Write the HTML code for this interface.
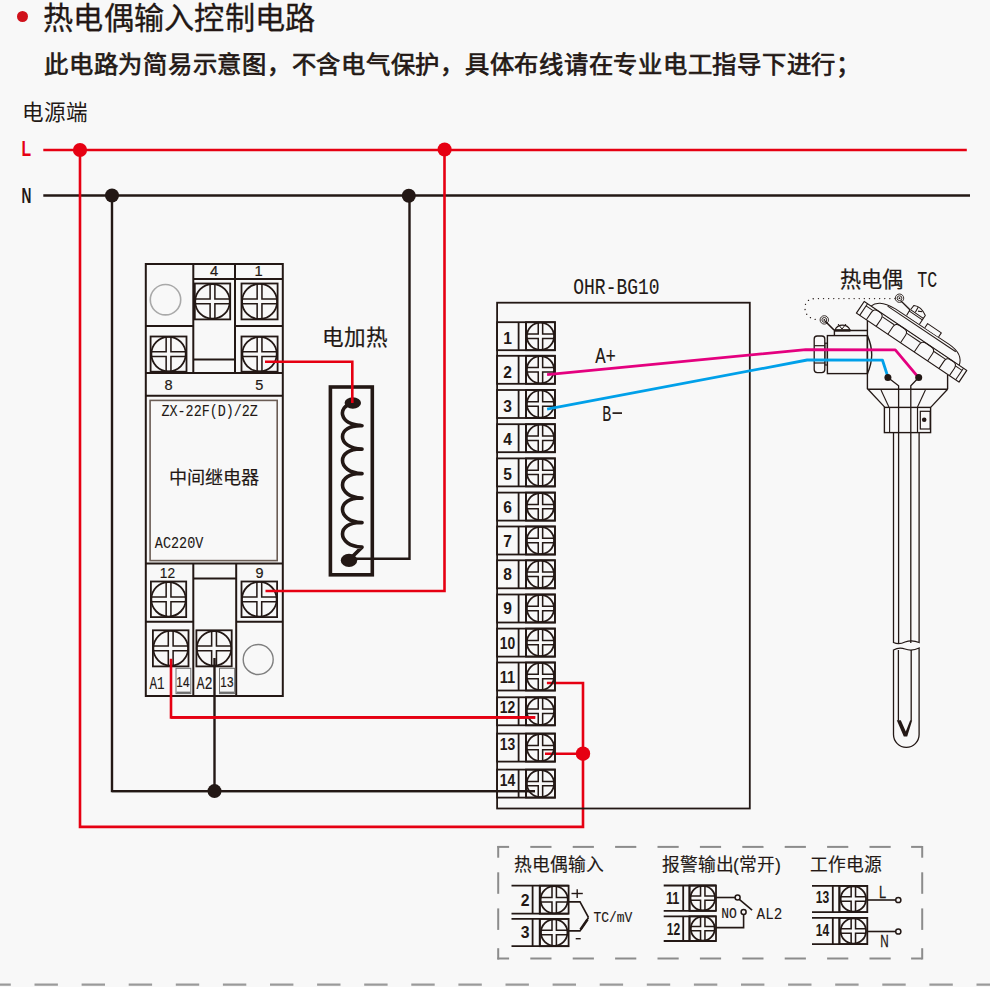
<!DOCTYPE html>
<html lang="zh-CN"><head><meta charset="utf-8"><style>
html,body{margin:0;padding:0;background:#f8f8f8;}
body{width:990px;height:987px;position:relative;overflow:hidden;font-family:"Liberation Sans",sans-serif;}
.h1{position:absolute;left:43px;top:-1.3px;font-size:30.2px;letter-spacing:0.25px;color:#231815;white-space:nowrap;line-height:40px;-webkit-text-stroke:0.3px #231815;}
.h2{position:absolute;left:44px;top:48px;font-size:24.3px;letter-spacing:0.75px;color:#231815;white-space:nowrap;line-height:34px;-webkit-text-stroke:0.7px #231815;}
.src{position:absolute;left:22px;top:99px;font-size:21.6px;color:#231815;white-space:nowrap;line-height:28px;}
.bullet{position:absolute;left:16.5px;top:11.3px;width:11px;height:11px;border-radius:50%;background:#d0111b;}
svg{position:absolute;left:0;top:0;}
</style></head><body>
<div class="bullet"></div>
<div class="h1">热电偶输入控制电路</div>
<div class="h2">此电路为简易示意图，不含电气保护，具体布线请在专业电工指导下进行；</div>
<div class="src">电源端</div>
<svg width="990" height="987" viewBox="0 0 990 987" lang="zh-CN">
<text x="21.6" y="156" font-size="21.8" font-weight="bold" fill="#e60012" font-family="Liberation Sans" textLength="9.6" lengthAdjust="spacingAndGlyphs">L</text>
<text x="21.6" y="203" font-size="21.8" font-weight="bold" fill="#231815" font-family="Liberation Sans" textLength="9.9" lengthAdjust="spacingAndGlyphs">N</text>
<line x1="43.3" y1="150" x2="966.8" y2="150" stroke="#e60012" stroke-width="2.6" />
<line x1="43.3" y1="195.5" x2="970" y2="195.5" stroke="#231815" stroke-width="2.6" />
<polyline points="112,195.5 112,791.1 535,791.1" fill="none" stroke="#231815" stroke-width="2.4" />
<polyline points="214.5,658 214.5,791.1" fill="none" stroke="#231815" stroke-width="2.4" />
<polyline points="409.5,195.5 409.5,558.8 349,558.8" fill="none" stroke="#231815" stroke-width="2.4" />
<circle cx="112" cy="195.5" r="7" fill="#231815"/>
<circle cx="214.5" cy="791.1" r="7" fill="#231815"/>
<circle cx="408.8" cy="195.7" r="7" fill="#231815"/>
<rect x="145.8" y="264" width="137.00" height="432.00" fill="none" stroke="#231815" stroke-width="2" />
<line x1="193.3" y1="264" x2="193.3" y2="373" stroke="#231815" stroke-width="2" />
<line x1="235" y1="264" x2="235" y2="373" stroke="#231815" stroke-width="2" />
<line x1="193.3" y1="279" x2="282.8" y2="279" stroke="#231815" stroke-width="2" />
<line x1="145.8" y1="326" x2="193.3" y2="326" stroke="#231815" stroke-width="2" />
<line x1="235" y1="326" x2="282.8" y2="326" stroke="#231815" stroke-width="2" />
<line x1="145.8" y1="373" x2="282.8" y2="373" stroke="#231815" stroke-width="2" />
<line x1="193.3" y1="359.5" x2="235" y2="359.5" stroke="#231815" stroke-width="2" />
<rect x="194.8" y="283.5" width="35.40" height="35.90" fill="none" stroke="#231815" stroke-width="1.8" />
<circle cx="212.50" cy="301.45" r="17.30" fill="none" stroke="#231815" stroke-width="1.8"/>
<polyline points="210.10,284.32 210.10,299.05 195.37,299.05" fill="none" stroke="#231815" stroke-width="1.53"/>
<polyline points="210.10,318.58 210.10,303.85 195.37,303.85" fill="none" stroke="#231815" stroke-width="1.53"/>
<polyline points="214.90,284.32 214.90,299.05 229.63,299.05" fill="none" stroke="#231815" stroke-width="1.53"/>
<polyline points="214.90,318.58 214.90,303.85 229.63,303.85" fill="none" stroke="#231815" stroke-width="1.53"/>
<rect x="241.5" y="283.5" width="36.10" height="35.90" fill="none" stroke="#231815" stroke-width="1.8" />
<circle cx="259.55" cy="301.45" r="17.55" fill="none" stroke="#231815" stroke-width="1.8"/>
<polyline points="257.15,284.06 257.15,299.05 242.16,299.05" fill="none" stroke="#231815" stroke-width="1.53"/>
<polyline points="257.15,318.84 257.15,303.85 242.16,303.85" fill="none" stroke="#231815" stroke-width="1.53"/>
<polyline points="261.95,284.06 261.95,299.05 276.94,299.05" fill="none" stroke="#231815" stroke-width="1.53"/>
<polyline points="261.95,318.84 261.95,303.85 276.94,303.85" fill="none" stroke="#231815" stroke-width="1.53"/>
<rect x="150.6" y="336.5" width="35.90" height="35.20" fill="none" stroke="#231815" stroke-width="1.8" />
<circle cx="168.55" cy="354.10" r="17.20" fill="none" stroke="#231815" stroke-width="1.8"/>
<polyline points="166.15,337.07 166.15,351.70 151.52,351.70" fill="none" stroke="#231815" stroke-width="1.53"/>
<polyline points="166.15,371.13 166.15,356.50 151.52,356.50" fill="none" stroke="#231815" stroke-width="1.53"/>
<polyline points="170.95,337.07 170.95,351.70 185.58,351.70" fill="none" stroke="#231815" stroke-width="1.53"/>
<polyline points="170.95,371.13 170.95,356.50 185.58,356.50" fill="none" stroke="#231815" stroke-width="1.53"/>
<rect x="241.5" y="336.5" width="36.10" height="35.20" fill="none" stroke="#231815" stroke-width="1.8" />
<circle cx="259.55" cy="354.10" r="17.20" fill="none" stroke="#231815" stroke-width="1.8"/>
<polyline points="257.15,337.07 257.15,351.70 242.52,351.70" fill="none" stroke="#231815" stroke-width="1.53"/>
<polyline points="257.15,371.13 257.15,356.50 242.52,356.50" fill="none" stroke="#231815" stroke-width="1.53"/>
<polyline points="261.95,337.07 261.95,351.70 276.58,351.70" fill="none" stroke="#231815" stroke-width="1.53"/>
<polyline points="261.95,371.13 261.95,356.50 276.58,356.50" fill="none" stroke="#231815" stroke-width="1.53"/>
<circle cx="165.5" cy="299.7" r="15.2" fill="none" stroke="#a9a9a9" stroke-width="1.6"/>
<text x="214" y="276.4" font-size="14.8" fill="#231815" text-anchor="middle" font-weight="normal" font-family="Liberation Sans" stroke="#231815" stroke-width="0.2" >4</text>
<text x="258.5" y="276.4" font-size="14.8" fill="#231815" text-anchor="middle" font-weight="normal" font-family="Liberation Sans" stroke="#231815" stroke-width="0.2" >1</text>
<text x="168.6" y="389.7" font-size="14.5" fill="#231815" text-anchor="middle" font-weight="normal" font-family="Liberation Sans" stroke="#231815" stroke-width="0.2" >8</text>
<text x="259.3" y="389.7" font-size="14.5" fill="#231815" text-anchor="middle" font-weight="normal" font-family="Liberation Sans" stroke="#231815" stroke-width="0.2" >5</text>
<line x1="145.8" y1="395.7" x2="282.8" y2="395.7" stroke="#231815" stroke-width="2" />
<rect x="150.1" y="400.4" width="127.10" height="160.20" fill="none" stroke="#6b5d55" stroke-width="1.6" />
<line x1="145.8" y1="563.6" x2="282.8" y2="563.6" stroke="#231815" stroke-width="2" />
<text x="209.7" y="415.8" font-size="17" fill="#231815" text-anchor="middle" font-weight="normal" font-family="Liberation Mono" textLength="96.4" lengthAdjust="spacingAndGlyphs" stroke="#231815" stroke-width="0.1" >ZX-22F(D)/2Z</text>
<text x="214.4" y="484.4" font-size="18.1" fill="#231815" text-anchor="middle" font-weight="normal" font-family="Liberation Sans" stroke="#231815" stroke-width="0.15" >中间继电器</text>
<text x="154.8" y="547.9" font-size="17.4" fill="#231815" text-anchor="start" font-weight="normal" font-family="Liberation Mono" textLength="48.5" lengthAdjust="spacingAndGlyphs" stroke="#231815" stroke-width="0.1" >AC220V</text>
<line x1="193.3" y1="563.6" x2="193.3" y2="696" stroke="#231815" stroke-width="2" />
<line x1="236.2" y1="563.6" x2="236.2" y2="696" stroke="#231815" stroke-width="2" />
<line x1="193.3" y1="578.5" x2="236.2" y2="578.5" stroke="#231815" stroke-width="2" />
<line x1="145.8" y1="621.7" x2="193.3" y2="621.7" stroke="#231815" stroke-width="2" />
<line x1="236.2" y1="621.7" x2="282.8" y2="621.7" stroke="#231815" stroke-width="2" />
<text x="167.5" y="578.4" font-size="14.4" fill="#231815" text-anchor="middle" font-weight="normal" font-family="Liberation Sans" textLength="15.3" lengthAdjust="spacingAndGlyphs" stroke="#231815" stroke-width="0.2" >12</text>
<text x="259.5" y="578.4" font-size="14.4" fill="#231815" text-anchor="middle" font-weight="normal" font-family="Liberation Sans" stroke="#231815" stroke-width="0.2" >9</text>
<rect x="150.9" y="581.5" width="35.30" height="35.60" fill="none" stroke="#231815" stroke-width="1.8" />
<circle cx="168.55" cy="599.30" r="17.25" fill="none" stroke="#231815" stroke-width="1.8"/>
<polyline points="166.15,582.22 166.15,596.90 151.47,596.90" fill="none" stroke="#231815" stroke-width="1.53"/>
<polyline points="166.15,616.38 166.15,601.70 151.47,601.70" fill="none" stroke="#231815" stroke-width="1.53"/>
<polyline points="170.95,582.22 170.95,596.90 185.63,596.90" fill="none" stroke="#231815" stroke-width="1.53"/>
<polyline points="170.95,616.38 170.95,601.70 185.63,601.70" fill="none" stroke="#231815" stroke-width="1.53"/>
<rect x="241.5" y="581.5" width="35.60" height="35.60" fill="none" stroke="#231815" stroke-width="1.8" />
<circle cx="259.30" cy="599.30" r="17.40" fill="none" stroke="#231815" stroke-width="1.8"/>
<polyline points="256.90,582.07 256.90,596.90 242.07,596.90" fill="none" stroke="#231815" stroke-width="1.53"/>
<polyline points="256.90,616.53 256.90,601.70 242.07,601.70" fill="none" stroke="#231815" stroke-width="1.53"/>
<polyline points="261.70,582.07 261.70,596.90 276.53,596.90" fill="none" stroke="#231815" stroke-width="1.53"/>
<polyline points="261.70,616.53 261.70,601.70 276.53,601.70" fill="none" stroke="#231815" stroke-width="1.53"/>
<rect x="152.9" y="630.3" width="35.60" height="36.10" fill="none" stroke="#231815" stroke-width="1.8" />
<circle cx="170.70" cy="648.35" r="17.40" fill="none" stroke="#231815" stroke-width="1.8"/>
<polyline points="168.30,631.12 168.30,645.95 153.47,645.95" fill="none" stroke="#231815" stroke-width="1.53"/>
<polyline points="168.30,665.58 168.30,650.75 153.47,650.75" fill="none" stroke="#231815" stroke-width="1.53"/>
<polyline points="173.10,631.12 173.10,645.95 187.93,645.95" fill="none" stroke="#231815" stroke-width="1.53"/>
<polyline points="173.10,665.58 173.10,650.75 187.93,650.75" fill="none" stroke="#231815" stroke-width="1.53"/>
<rect x="196.4" y="630.3" width="35.30" height="36.10" fill="none" stroke="#231815" stroke-width="1.8" />
<circle cx="214.05" cy="648.35" r="17.25" fill="none" stroke="#231815" stroke-width="1.8"/>
<polyline points="211.65,631.27 211.65,645.95 196.97,645.95" fill="none" stroke="#231815" stroke-width="1.53"/>
<polyline points="211.65,665.43 211.65,650.75 196.97,650.75" fill="none" stroke="#231815" stroke-width="1.53"/>
<polyline points="216.45,631.27 216.45,645.95 231.13,645.95" fill="none" stroke="#231815" stroke-width="1.53"/>
<polyline points="216.45,665.43 216.45,650.75 231.13,650.75" fill="none" stroke="#231815" stroke-width="1.53"/>
<circle cx="258.2" cy="659.5" r="15" fill="none" stroke="#7f7f7f" stroke-width="1.4"/>
<text x="149.5" y="688.8" font-size="18.4" fill="#231815" text-anchor="start" font-weight="normal" font-family="Liberation Mono" textLength="15.2" lengthAdjust="spacingAndGlyphs" stroke="#231815" stroke-width="0.1" >A1</text>
<rect x="176" y="668.3" width="14.80" height="25.30" fill="none" stroke="#6f6f6f" stroke-width="1" />
<line x1="176.5" y1="692.6" x2="190.3" y2="692.6" stroke="#707070" stroke-width="2" />
<text x="182.9" y="687.1" font-size="14.5" fill="#231815" text-anchor="middle" font-weight="normal" font-family="Liberation Sans" textLength="13.1" lengthAdjust="spacingAndGlyphs" stroke="#231815" stroke-width="0.2" >14</text>
<text x="196.5" y="688.8" font-size="18.4" fill="#231815" text-anchor="start" font-weight="normal" font-family="Liberation Mono" textLength="16.2" lengthAdjust="spacingAndGlyphs" stroke="#231815" stroke-width="0.1" >A2</text>
<rect x="219.5" y="668.3" width="15.20" height="25.30" fill="none" stroke="#6f6f6f" stroke-width="1" />
<line x1="220" y1="692.6" x2="234.2" y2="692.6" stroke="#707070" stroke-width="2" />
<text x="226.9" y="687.1" font-size="14.5" fill="#231815" text-anchor="middle" font-weight="normal" font-family="Liberation Sans" textLength="13.1" lengthAdjust="spacingAndGlyphs" stroke="#231815" stroke-width="0.2" >13</text>
<rect x="330.4" y="387" width="41.90" height="187.80" fill="none" stroke="#231815" stroke-width="3.6" />
<text x="354.5" y="345" font-size="21.6" fill="#231815" text-anchor="middle" font-weight="normal" font-family="Liberation Sans" stroke="#231815" stroke-width="0.2" >电加热</text>
<path d="M351,404 C339,406 337,424 362,425.7 C336,424.7 336,448.1 362,449.1 C336,448.1 336,472.6 362,473.6 C336,472.6 336,497.1 362,498.1 C336,497.1 336,521.6 362,522.6 C336,521.6 336,546.1 362,547.1 L349,560" fill="none" stroke="#231815" stroke-width="3.6" stroke-linejoin="round"/>
<ellipse cx="352.8" cy="403" rx="8.2" ry="5.8" fill="#231815"/>
<ellipse cx="349" cy="560.4" rx="8.2" ry="6.6" fill="#231815"/>
<polyline points="80,150 80,826.9 583,826.9 583,683 546.9,683" fill="none" stroke="#e60012" stroke-width="2.6" />
<polyline points="545,753.7 583,753.7" fill="none" stroke="#e60012" stroke-width="2.6" />
<polyline points="171,658.8 171,717.4 535.2,717.4" fill="none" stroke="#e60012" stroke-width="2.6" />
<polyline points="444.5,150 444.5,591 265.5,591" fill="none" stroke="#e60012" stroke-width="2.6" />
<polyline points="265,361.7 352.3,361.7 352.3,403" fill="none" stroke="#e60012" stroke-width="2.6" />
<circle cx="80" cy="150" r="7.1" fill="#e60012"/>
<circle cx="444.6" cy="149.5" r="7.1" fill="#e60012"/>
<circle cx="583" cy="753.7" r="7.2" fill="#e60012"/>
<rect x="497.1" y="302.7" width="252.70" height="505.80" fill="none" stroke="#231815" stroke-width="1.8" />
<text x="616.4" y="293.6" font-size="22.6" fill="#231815" text-anchor="middle" font-weight="normal" font-family="Liberation Mono" textLength="86.1" lengthAdjust="spacingAndGlyphs" stroke="#231815" stroke-width="0.1" >OHR-BG10</text>
<rect x="497.1" y="322.2" width="57.80" height="28.00" fill="none" stroke="#231815" stroke-width="1.8" />
<line x1="518.6" y1="322.2" x2="518.6" y2="350.2" stroke="#231815" stroke-width="1.8" />
<line x1="526" y1="322.2" x2="526" y2="350.2" stroke="#231815" stroke-width="1.8" />
<rect x="526" y="322.2" width="28.90" height="28.00" fill="none" stroke="#231815" stroke-width="1.8" />
<circle cx="540.45" cy="336.20" r="13.60" fill="none" stroke="#231815" stroke-width="1.8"/>
<polyline points="538.25,322.78 538.25,334.00 527.03,334.00" fill="none" stroke="#231815" stroke-width="1.53"/>
<polyline points="538.25,349.62 538.25,338.40 527.03,338.40" fill="none" stroke="#231815" stroke-width="1.53"/>
<polyline points="542.65,322.78 542.65,334.00 553.87,334.00" fill="none" stroke="#231815" stroke-width="1.53"/>
<polyline points="542.65,349.62 542.65,338.40 553.87,338.40" fill="none" stroke="#231815" stroke-width="1.53"/>
<text x="507.5" y="344.2" font-size="15.6" fill="#231815" text-anchor="middle" font-weight="bold" font-family="Liberation Sans" >1</text>
<rect x="497.1" y="355.8" width="57.80" height="28.00" fill="none" stroke="#231815" stroke-width="1.8" />
<line x1="518.6" y1="355.8" x2="518.6" y2="383.8" stroke="#231815" stroke-width="1.8" />
<line x1="526" y1="355.8" x2="526" y2="383.8" stroke="#231815" stroke-width="1.8" />
<rect x="526" y="355.8" width="28.90" height="28.00" fill="none" stroke="#231815" stroke-width="1.8" />
<circle cx="540.45" cy="369.80" r="13.60" fill="none" stroke="#231815" stroke-width="1.8"/>
<polyline points="538.25,356.38 538.25,367.60 527.03,367.60" fill="none" stroke="#231815" stroke-width="1.53"/>
<polyline points="538.25,383.22 538.25,372.00 527.03,372.00" fill="none" stroke="#231815" stroke-width="1.53"/>
<polyline points="542.65,356.38 542.65,367.60 553.87,367.60" fill="none" stroke="#231815" stroke-width="1.53"/>
<polyline points="542.65,383.22 542.65,372.00 553.87,372.00" fill="none" stroke="#231815" stroke-width="1.53"/>
<text x="507.5" y="377.9" font-size="15.6" fill="#231815" text-anchor="middle" font-weight="bold" font-family="Liberation Sans" >2</text>
<rect x="497.1" y="390" width="57.80" height="28.00" fill="none" stroke="#231815" stroke-width="1.8" />
<line x1="518.6" y1="390" x2="518.6" y2="418" stroke="#231815" stroke-width="1.8" />
<line x1="526" y1="390" x2="526" y2="418" stroke="#231815" stroke-width="1.8" />
<rect x="526" y="390" width="28.90" height="28.00" fill="none" stroke="#231815" stroke-width="1.8" />
<circle cx="540.45" cy="404.00" r="13.60" fill="none" stroke="#231815" stroke-width="1.8"/>
<polyline points="538.25,390.58 538.25,401.80 527.03,401.80" fill="none" stroke="#231815" stroke-width="1.53"/>
<polyline points="538.25,417.42 538.25,406.20 527.03,406.20" fill="none" stroke="#231815" stroke-width="1.53"/>
<polyline points="542.65,390.58 542.65,401.80 553.87,401.80" fill="none" stroke="#231815" stroke-width="1.53"/>
<polyline points="542.65,417.42 542.65,406.20 553.87,406.20" fill="none" stroke="#231815" stroke-width="1.53"/>
<text x="507.5" y="411.7" font-size="15.6" fill="#231815" text-anchor="middle" font-weight="bold" font-family="Liberation Sans" >3</text>
<rect x="497.1" y="424.2" width="57.80" height="28.00" fill="none" stroke="#231815" stroke-width="1.8" />
<line x1="518.6" y1="424.2" x2="518.6" y2="452.2" stroke="#231815" stroke-width="1.8" />
<line x1="526" y1="424.2" x2="526" y2="452.2" stroke="#231815" stroke-width="1.8" />
<rect x="526" y="424.2" width="28.90" height="28.00" fill="none" stroke="#231815" stroke-width="1.8" />
<circle cx="540.45" cy="438.20" r="13.60" fill="none" stroke="#231815" stroke-width="1.8"/>
<polyline points="538.25,424.78 538.25,436.00 527.03,436.00" fill="none" stroke="#231815" stroke-width="1.53"/>
<polyline points="538.25,451.62 538.25,440.40 527.03,440.40" fill="none" stroke="#231815" stroke-width="1.53"/>
<polyline points="542.65,424.78 542.65,436.00 553.87,436.00" fill="none" stroke="#231815" stroke-width="1.53"/>
<polyline points="542.65,451.62 542.65,440.40 553.87,440.40" fill="none" stroke="#231815" stroke-width="1.53"/>
<text x="507.5" y="445.4" font-size="15.6" fill="#231815" text-anchor="middle" font-weight="bold" font-family="Liberation Sans" >4</text>
<rect x="497.1" y="458.4" width="57.80" height="28.00" fill="none" stroke="#231815" stroke-width="1.8" />
<line x1="518.6" y1="458.4" x2="518.6" y2="486.4" stroke="#231815" stroke-width="1.8" />
<line x1="526" y1="458.4" x2="526" y2="486.4" stroke="#231815" stroke-width="1.8" />
<rect x="526" y="458.4" width="28.90" height="28.00" fill="none" stroke="#231815" stroke-width="1.8" />
<circle cx="540.45" cy="472.40" r="13.60" fill="none" stroke="#231815" stroke-width="1.8"/>
<polyline points="538.25,458.98 538.25,470.20 527.03,470.20" fill="none" stroke="#231815" stroke-width="1.53"/>
<polyline points="538.25,485.82 538.25,474.60 527.03,474.60" fill="none" stroke="#231815" stroke-width="1.53"/>
<polyline points="542.65,458.98 542.65,470.20 553.87,470.20" fill="none" stroke="#231815" stroke-width="1.53"/>
<polyline points="542.65,485.82 542.65,474.60 553.87,474.60" fill="none" stroke="#231815" stroke-width="1.53"/>
<text x="507.5" y="479.5" font-size="15.6" fill="#231815" text-anchor="middle" font-weight="bold" font-family="Liberation Sans" >5</text>
<rect x="497.1" y="492.6" width="57.80" height="28.00" fill="none" stroke="#231815" stroke-width="1.8" />
<line x1="518.6" y1="492.6" x2="518.6" y2="520.6" stroke="#231815" stroke-width="1.8" />
<line x1="526" y1="492.6" x2="526" y2="520.6" stroke="#231815" stroke-width="1.8" />
<rect x="526" y="492.6" width="28.90" height="28.00" fill="none" stroke="#231815" stroke-width="1.8" />
<circle cx="540.45" cy="506.60" r="13.60" fill="none" stroke="#231815" stroke-width="1.8"/>
<polyline points="538.25,493.18 538.25,504.40 527.03,504.40" fill="none" stroke="#231815" stroke-width="1.53"/>
<polyline points="538.25,520.02 538.25,508.80 527.03,508.80" fill="none" stroke="#231815" stroke-width="1.53"/>
<polyline points="542.65,493.18 542.65,504.40 553.87,504.40" fill="none" stroke="#231815" stroke-width="1.53"/>
<polyline points="542.65,520.02 542.65,508.80 553.87,508.80" fill="none" stroke="#231815" stroke-width="1.53"/>
<text x="507.5" y="512.5" font-size="15.6" fill="#231815" text-anchor="middle" font-weight="bold" font-family="Liberation Sans" >6</text>
<rect x="497.1" y="526.5" width="57.80" height="28.00" fill="none" stroke="#231815" stroke-width="1.8" />
<line x1="518.6" y1="526.5" x2="518.6" y2="554.5" stroke="#231815" stroke-width="1.8" />
<line x1="526" y1="526.5" x2="526" y2="554.5" stroke="#231815" stroke-width="1.8" />
<rect x="526" y="526.5" width="28.90" height="28.00" fill="none" stroke="#231815" stroke-width="1.8" />
<circle cx="540.45" cy="540.50" r="13.60" fill="none" stroke="#231815" stroke-width="1.8"/>
<polyline points="538.25,527.08 538.25,538.30 527.03,538.30" fill="none" stroke="#231815" stroke-width="1.53"/>
<polyline points="538.25,553.92 538.25,542.70 527.03,542.70" fill="none" stroke="#231815" stroke-width="1.53"/>
<polyline points="542.65,527.08 542.65,538.30 553.87,538.30" fill="none" stroke="#231815" stroke-width="1.53"/>
<polyline points="542.65,553.92 542.65,542.70 553.87,542.70" fill="none" stroke="#231815" stroke-width="1.53"/>
<text x="507.5" y="546.5" font-size="15.6" fill="#231815" text-anchor="middle" font-weight="bold" font-family="Liberation Sans" >7</text>
<rect x="497.1" y="560.3" width="57.80" height="28.00" fill="none" stroke="#231815" stroke-width="1.8" />
<line x1="518.6" y1="560.3" x2="518.6" y2="588.3" stroke="#231815" stroke-width="1.8" />
<line x1="526" y1="560.3" x2="526" y2="588.3" stroke="#231815" stroke-width="1.8" />
<rect x="526" y="560.3" width="28.90" height="28.00" fill="none" stroke="#231815" stroke-width="1.8" />
<circle cx="540.45" cy="574.30" r="13.60" fill="none" stroke="#231815" stroke-width="1.8"/>
<polyline points="538.25,560.88 538.25,572.10 527.03,572.10" fill="none" stroke="#231815" stroke-width="1.53"/>
<polyline points="538.25,587.72 538.25,576.50 527.03,576.50" fill="none" stroke="#231815" stroke-width="1.53"/>
<polyline points="542.65,560.88 542.65,572.10 553.87,572.10" fill="none" stroke="#231815" stroke-width="1.53"/>
<polyline points="542.65,587.72 542.65,576.50 553.87,576.50" fill="none" stroke="#231815" stroke-width="1.53"/>
<text x="507.5" y="579.8" font-size="15.6" fill="#231815" text-anchor="middle" font-weight="bold" font-family="Liberation Sans" >8</text>
<rect x="497.1" y="594.5" width="57.80" height="28.00" fill="none" stroke="#231815" stroke-width="1.8" />
<line x1="518.6" y1="594.5" x2="518.6" y2="622.5" stroke="#231815" stroke-width="1.8" />
<line x1="526" y1="594.5" x2="526" y2="622.5" stroke="#231815" stroke-width="1.8" />
<rect x="526" y="594.5" width="28.90" height="28.00" fill="none" stroke="#231815" stroke-width="1.8" />
<circle cx="540.45" cy="608.50" r="13.60" fill="none" stroke="#231815" stroke-width="1.8"/>
<polyline points="538.25,595.08 538.25,606.30 527.03,606.30" fill="none" stroke="#231815" stroke-width="1.53"/>
<polyline points="538.25,621.92 538.25,610.70 527.03,610.70" fill="none" stroke="#231815" stroke-width="1.53"/>
<polyline points="542.65,595.08 542.65,606.30 553.87,606.30" fill="none" stroke="#231815" stroke-width="1.53"/>
<polyline points="542.65,621.92 542.65,610.70 553.87,610.70" fill="none" stroke="#231815" stroke-width="1.53"/>
<text x="507.5" y="614.4" font-size="15.6" fill="#231815" text-anchor="middle" font-weight="bold" font-family="Liberation Sans" >9</text>
<rect x="497.1" y="628.6" width="57.80" height="28.00" fill="none" stroke="#231815" stroke-width="1.8" />
<line x1="518.6" y1="628.6" x2="518.6" y2="656.6" stroke="#231815" stroke-width="1.8" />
<line x1="526" y1="628.6" x2="526" y2="656.6" stroke="#231815" stroke-width="1.8" />
<rect x="526" y="628.6" width="28.90" height="28.00" fill="none" stroke="#231815" stroke-width="1.8" />
<circle cx="540.45" cy="642.60" r="13.60" fill="none" stroke="#231815" stroke-width="1.8"/>
<polyline points="538.25,629.18 538.25,640.40 527.03,640.40" fill="none" stroke="#231815" stroke-width="1.53"/>
<polyline points="538.25,656.02 538.25,644.80 527.03,644.80" fill="none" stroke="#231815" stroke-width="1.53"/>
<polyline points="542.65,629.18 542.65,640.40 553.87,640.40" fill="none" stroke="#231815" stroke-width="1.53"/>
<polyline points="542.65,656.02 542.65,644.80 553.87,644.80" fill="none" stroke="#231815" stroke-width="1.53"/>
<text x="507.5" y="648.6" font-size="15.6" fill="#231815" text-anchor="middle" font-weight="bold" font-family="Liberation Sans" textLength="15.5" lengthAdjust="spacingAndGlyphs" >10</text>
<rect x="497.1" y="662.5" width="57.80" height="28.00" fill="none" stroke="#231815" stroke-width="1.8" />
<line x1="518.6" y1="662.5" x2="518.6" y2="690.5" stroke="#231815" stroke-width="1.8" />
<line x1="526" y1="662.5" x2="526" y2="690.5" stroke="#231815" stroke-width="1.8" />
<rect x="526" y="662.5" width="28.90" height="28.00" fill="none" stroke="#231815" stroke-width="1.8" />
<circle cx="540.45" cy="676.50" r="13.60" fill="none" stroke="#231815" stroke-width="1.8"/>
<polyline points="538.25,663.08 538.25,674.30 527.03,674.30" fill="none" stroke="#231815" stroke-width="1.53"/>
<polyline points="538.25,689.92 538.25,678.70 527.03,678.70" fill="none" stroke="#231815" stroke-width="1.53"/>
<polyline points="542.65,663.08 542.65,674.30 553.87,674.30" fill="none" stroke="#231815" stroke-width="1.53"/>
<polyline points="542.65,689.92 542.65,678.70 553.87,678.70" fill="none" stroke="#231815" stroke-width="1.53"/>
<text x="507.5" y="682.7" font-size="15.6" fill="#231815" text-anchor="middle" font-weight="bold" font-family="Liberation Sans" textLength="15.5" lengthAdjust="spacingAndGlyphs" >11</text>
<rect x="497.1" y="697.3" width="57.80" height="28.00" fill="none" stroke="#231815" stroke-width="1.8" />
<line x1="518.6" y1="697.3" x2="518.6" y2="725.3" stroke="#231815" stroke-width="1.8" />
<line x1="526" y1="697.3" x2="526" y2="725.3" stroke="#231815" stroke-width="1.8" />
<rect x="526" y="697.3" width="28.90" height="28.00" fill="none" stroke="#231815" stroke-width="1.8" />
<circle cx="540.45" cy="711.30" r="13.60" fill="none" stroke="#231815" stroke-width="1.8"/>
<polyline points="538.25,697.88 538.25,709.10 527.03,709.10" fill="none" stroke="#231815" stroke-width="1.53"/>
<polyline points="538.25,724.72 538.25,713.50 527.03,713.50" fill="none" stroke="#231815" stroke-width="1.53"/>
<polyline points="542.65,697.88 542.65,709.10 553.87,709.10" fill="none" stroke="#231815" stroke-width="1.53"/>
<polyline points="542.65,724.72 542.65,713.50 553.87,713.50" fill="none" stroke="#231815" stroke-width="1.53"/>
<text x="507.5" y="712.9" font-size="15.6" fill="#231815" text-anchor="middle" font-weight="bold" font-family="Liberation Sans" textLength="15.5" lengthAdjust="spacingAndGlyphs" >12</text>
<rect x="497.1" y="733.6" width="57.80" height="28.00" fill="none" stroke="#231815" stroke-width="1.8" />
<line x1="518.6" y1="733.6" x2="518.6" y2="761.6" stroke="#231815" stroke-width="1.8" />
<line x1="526" y1="733.6" x2="526" y2="761.6" stroke="#231815" stroke-width="1.8" />
<rect x="526" y="733.6" width="28.90" height="28.00" fill="none" stroke="#231815" stroke-width="1.8" />
<circle cx="540.45" cy="747.60" r="13.60" fill="none" stroke="#231815" stroke-width="1.8"/>
<polyline points="538.25,734.18 538.25,745.40 527.03,745.40" fill="none" stroke="#231815" stroke-width="1.53"/>
<polyline points="538.25,761.02 538.25,749.80 527.03,749.80" fill="none" stroke="#231815" stroke-width="1.53"/>
<polyline points="542.65,734.18 542.65,745.40 553.87,745.40" fill="none" stroke="#231815" stroke-width="1.53"/>
<polyline points="542.65,761.02 542.65,749.80 553.87,749.80" fill="none" stroke="#231815" stroke-width="1.53"/>
<text x="507.5" y="750.2" font-size="15.6" fill="#231815" text-anchor="middle" font-weight="bold" font-family="Liberation Sans" textLength="15.5" lengthAdjust="spacingAndGlyphs" >13</text>
<rect x="497.1" y="769.6" width="57.80" height="28.00" fill="none" stroke="#231815" stroke-width="1.8" />
<line x1="518.6" y1="769.6" x2="518.6" y2="797.6" stroke="#231815" stroke-width="1.8" />
<line x1="526" y1="769.6" x2="526" y2="797.6" stroke="#231815" stroke-width="1.8" />
<rect x="526" y="769.6" width="28.90" height="28.00" fill="none" stroke="#231815" stroke-width="1.8" />
<circle cx="540.45" cy="783.60" r="13.60" fill="none" stroke="#231815" stroke-width="1.8"/>
<polyline points="538.25,770.18 538.25,781.40 527.03,781.40" fill="none" stroke="#231815" stroke-width="1.53"/>
<polyline points="538.25,797.02 538.25,785.80 527.03,785.80" fill="none" stroke="#231815" stroke-width="1.53"/>
<polyline points="542.65,770.18 542.65,781.40 553.87,781.40" fill="none" stroke="#231815" stroke-width="1.53"/>
<polyline points="542.65,797.02 542.65,785.80 553.87,785.80" fill="none" stroke="#231815" stroke-width="1.53"/>
<text x="507.5" y="785.9" font-size="15.6" fill="#231815" text-anchor="middle" font-weight="bold" font-family="Liberation Sans" textLength="15.5" lengthAdjust="spacingAndGlyphs" >14</text>
<text x="595.2" y="363.2" font-size="22.2" fill="#231815" text-anchor="start" font-weight="normal" font-family="Liberation Mono" textLength="20.8" lengthAdjust="spacingAndGlyphs" stroke="#231815" stroke-width="0.1" >A+</text>
<text x="602.2" y="420.5" font-size="21.5" fill="#231815" text-anchor="start" font-weight="normal" font-family="Liberation Mono" textLength="9" lengthAdjust="spacingAndGlyphs" stroke="#231815" stroke-width="0.1" >B</text>
<line x1="612.5" y1="413.1" x2="622" y2="413.1" stroke="#231815" stroke-width="1.7" />
<polyline points="171,717.4 535.2,717.4" fill="none" stroke="#e60012" stroke-width="2.6" />
<polyline points="112,791.1 535,791.1" fill="none" stroke="#231815" stroke-width="2.4" />
<text x="840.2" y="286.5" font-size="21.2" fill="#231815" text-anchor="start" font-weight="normal" font-family="Liberation Sans" stroke="#231815" stroke-width="0.2" >热电偶</text>
<text x="917.3" y="286.7" font-size="22.2" fill="#231815" text-anchor="start" font-weight="normal" font-family="Liberation Mono" textLength="20" lengthAdjust="spacingAndGlyphs" stroke="#231815" stroke-width="0.1" >TC</text>
<path d="M895,298.6 L815,298.6 Q805,299 805,308 Q805,318 818,320" fill="none" stroke="#231815" stroke-width="1.3" stroke-dasharray="0.1 5" stroke-linecap="round"/>
<circle cx="824.3" cy="319.9" r="4.2" fill="none" stroke="#231815" stroke-width="0.9"/>
<circle cx="824.3" cy="319.9" r="2.4" fill="none" stroke="#231815" stroke-width="0.9"/>
<circle cx="824.3" cy="319.9" r="0.9" fill="#231815"/>
<circle cx="899.5" cy="298.2" r="4.2" fill="none" stroke="#231815" stroke-width="0.9"/>
<circle cx="899.5" cy="298.2" r="2.4" fill="none" stroke="#231815" stroke-width="0.9"/>
<circle cx="899.5" cy="298.2" r="0.9" fill="#231815"/>
<line x1="825" y1="321" x2="834" y2="330" stroke="#231815" stroke-width="1.6" />
<path d="M835,330 A8,7.5 0 0 1 850,330 Z" fill="none" stroke="#231815" stroke-width="1.2"/>
<line x1="834.4" y1="330.5" x2="850.4" y2="330.5" stroke="#231815" stroke-width="2.2" />
<line x1="838" y1="324" x2="842" y2="329" stroke="#231815" stroke-width="1" />
<line x1="846" y1="324" x2="842" y2="329" stroke="#231815" stroke-width="1" />
<path d="M834.4,335.6 V330.5 H867.4" fill="none" stroke="#231815" stroke-width="1.4"/>
<rect x="827.4" y="335.6" width="40.00" height="38.00" fill="none" stroke="#231815" stroke-width="1.4" />
<path d="M867.4,335.6 Q876,354.6 867.4,373.6" fill="none" stroke="#231815" stroke-width="1.4"/>
<rect x="824.8" y="343.2" width="2.60" height="21.80" fill="none" stroke="#231815" stroke-width="1.2" />
<rect x="814.2" y="336" width="10.6" height="36.6" rx="3" fill="#f8f8f8" stroke="#231815" stroke-width="1.3"/>
<line x1="814.2" y1="345.7" x2="824.8" y2="345.7" stroke="#231815" stroke-width="1.2" />
<line x1="814.2" y1="363" x2="824.8" y2="363" stroke="#231815" stroke-width="1.2" />
<line x1="867.4" y1="320.8" x2="867.4" y2="389.2" stroke="#231815" stroke-width="1.4" />
<line x1="947.6" y1="374.8" x2="947.6" y2="389.2" stroke="#231815" stroke-width="1.4" />
<line x1="867.4" y1="389.2" x2="947.6" y2="389.2" stroke="#231815" stroke-width="1.4" />
<polyline points="868,389.2 884.7,407.1" fill="none" stroke="#231815" stroke-width="1.3" />
<polyline points="947.6,389.2 930.9,407.1" fill="none" stroke="#231815" stroke-width="1.3" />
<polyline points="881,390 888.9,407.1" fill="none" stroke="#231815" stroke-width="1.1" />
<polyline points="925.4,390 917.5,407.1" fill="none" stroke="#231815" stroke-width="1.1" />
<rect x="884.4" y="407.4" width="46.20" height="25.20" fill="none" stroke="#231815" stroke-width="1.4" />
<line x1="889.6" y1="407.4" x2="889.6" y2="432.6" stroke="#231815" stroke-width="1.1" />
<line x1="917.5" y1="407.4" x2="917.5" y2="432.6" stroke="#231815" stroke-width="1.2" />
<rect x="920.3" y="411.3" width="9.90" height="17.70" fill="none" stroke="#231815" stroke-width="1.2" />
<circle cx="924.2" cy="419.8" r="2.3" fill="#231815"/>
<path d="M893.5,432.6 V642.5 Q899,645 905,642 Q912,639.5 919.1,642.5 V432.6" fill="none" stroke="#231815" stroke-width="1.3"/>
<path d="M893.5,650 Q899,647 905,649 Q912,651.5 919.1,648 V734.6 A12.8,12.8 0 0 1 893.5,734.6 Z" fill="none" stroke="#231815" stroke-width="1.3"/>
<polyline points="887.9,377.5 898.6,385.8 898.6,643" fill="none" stroke="#231815" stroke-width="1.3" />
<polyline points="918.7,377.5 910.8,385.8 910.8,643" fill="none" stroke="#231815" stroke-width="1.3" />
<polyline points="898.4,650 898.4,720.6" fill="none" stroke="#231815" stroke-width="1.3" />
<polyline points="911.2,650 911.2,720.6" fill="none" stroke="#231815" stroke-width="1.3" />
<path d="M896.8,720.2 L900.8,720.2 L905.8,731.5 L910.2,720.2 L912.2,720.2 L907.2,736.6 L903.8,736.6 Z" fill="#231815"/>
<g transform="translate(864.2,301.5) rotate(33.9)" fill="none" stroke="#231815" stroke-width="1.05" stroke-linejoin="round">
<path d="M8,0.5 C10,-6 15,-10 30,-11.3 L94,-11.8 Q112,-11.8 114.5,0.5 Z" fill="#f8f8f8"/>
<path d="M22,-9.2 L104,-9.4"/>
<rect x="0" y="0" width="123.6" height="14" fill="#f8f8f8" stroke-width="1.2"/>
<line x1="4" y1="0" x2="4" y2="14"/>
<line x1="119.6" y1="0" x2="119.6" y2="14"/>
<line x1="4" y1="2.6" x2="12" y2="2.6"/>
<line x1="23.8" y1="2.6" x2="37.9" y2="2.6"/>
<line x1="53.2" y1="2.6" x2="69.7" y2="2.6"/>
<line x1="85.8" y1="2.6" x2="99.5" y2="2.6"/>
<line x1="112.1" y1="2.6" x2="119.6" y2="2.6"/>
<path d="M12,14 V5 Q12,0.2 17,0.2 H18.8 Q23.8,0.2 23.8,5 V14"/>
<path d="M37.9,14 V5 Q37.9,0.2 42.9,0.2 H48.2 Q53.2,0.2 53.2,5 V14"/>
<path d="M69.7,14 V5 Q69.7,0.2 74.7,0.2 H80.8 Q85.8,0.2 85.8,5 V14"/>
<path d="M99.5,14 V5 Q99.5,0.2 104.5,0.2 H107.1 Q112.1,0.2 112.1,5 V14"/>
<path d="M65,-12 V-17 H81.5 V-12" fill="#f8f8f8"/>
<path d="M43,-12.3 V-26 Q50,-28.5 58.5,-23 V-12.3" fill="#f8f8f8" stroke="none"/>
<path d="M43,-12 L42.5,-19 H58.5 L58.5,-12"/>
<line x1="42.5" y1="-17.2" x2="58.5" y2="-17.2"/>
<path d="M43,-19 L43.5,-24.5 Q50,-28 58.5,-22.5 L58.5,-19"/>
<path d="M48.5,-19.5 L48,-25.5 M50,-22 L54,-24"/>
</g>
<line x1="900.9" y1="300.7" x2="910.2" y2="309.9" stroke="#231815" stroke-width="1.6" />
<line x1="901.6" y1="300.3" x2="910.8" y2="309.4" stroke="#f8f8f8" stroke-width="0.5" />
<polyline points="547.1,374.7 805.8,349.6 895.3,349.9 918.4,377.3" fill="none" stroke="#e4007f" stroke-width="2.8" stroke-linejoin="round"/>
<polyline points="547.1,409.2 807.2,360 882.5,360.2 888,377.3" fill="none" stroke="#00a0e9" stroke-width="2.8" stroke-linejoin="round"/>
<circle cx="887.9" cy="377.5" r="3.5" fill="#231815"/>
<circle cx="918.7" cy="377.5" r="3.5" fill="#231815"/>
<line x1="497.4" y1="846.9" x2="509.1" y2="846.9" stroke="#8c8c8c" stroke-width="2" />
<line x1="497.4" y1="958.5" x2="509.1" y2="958.5" stroke="#8c8c8c" stroke-width="2" />
<line x1="530.3" y1="846.9" x2="551.5" y2="846.9" stroke="#8c8c8c" stroke-width="2" />
<line x1="530.3" y1="958.5" x2="551.5" y2="958.5" stroke="#8c8c8c" stroke-width="2" />
<line x1="572.6999999999999" y1="846.9" x2="593.9" y2="846.9" stroke="#8c8c8c" stroke-width="2" />
<line x1="572.6999999999999" y1="958.5" x2="593.9" y2="958.5" stroke="#8c8c8c" stroke-width="2" />
<line x1="615.0999999999999" y1="846.9" x2="636.3" y2="846.9" stroke="#8c8c8c" stroke-width="2" />
<line x1="615.0999999999999" y1="958.5" x2="636.3" y2="958.5" stroke="#8c8c8c" stroke-width="2" />
<line x1="657.5" y1="846.9" x2="678.7" y2="846.9" stroke="#8c8c8c" stroke-width="2" />
<line x1="657.5" y1="958.5" x2="678.7" y2="958.5" stroke="#8c8c8c" stroke-width="2" />
<line x1="699.9" y1="846.9" x2="721.1" y2="846.9" stroke="#8c8c8c" stroke-width="2" />
<line x1="699.9" y1="958.5" x2="721.1" y2="958.5" stroke="#8c8c8c" stroke-width="2" />
<line x1="742.3" y1="846.9" x2="763.5" y2="846.9" stroke="#8c8c8c" stroke-width="2" />
<line x1="742.3" y1="958.5" x2="763.5" y2="958.5" stroke="#8c8c8c" stroke-width="2" />
<line x1="784.6999999999999" y1="846.9" x2="805.9" y2="846.9" stroke="#8c8c8c" stroke-width="2" />
<line x1="784.6999999999999" y1="958.5" x2="805.9" y2="958.5" stroke="#8c8c8c" stroke-width="2" />
<line x1="827.0999999999999" y1="846.9" x2="848.3" y2="846.9" stroke="#8c8c8c" stroke-width="2" />
<line x1="827.0999999999999" y1="958.5" x2="848.3" y2="958.5" stroke="#8c8c8c" stroke-width="2" />
<line x1="869.5" y1="846.9" x2="890.7" y2="846.9" stroke="#8c8c8c" stroke-width="2" />
<line x1="869.5" y1="958.5" x2="890.7" y2="958.5" stroke="#8c8c8c" stroke-width="2" />
<line x1="911.1" y1="846.9" x2="922.2" y2="846.9" stroke="#8c8c8c" stroke-width="2" />
<line x1="911.1" y1="958.5" x2="922.2" y2="958.5" stroke="#8c8c8c" stroke-width="2" />
<line x1="498.2" y1="846" x2="498.2" y2="857.7" stroke="#8c8c8c" stroke-width="2" />
<line x1="922.2" y1="846" x2="922.2" y2="857.7" stroke="#8c8c8c" stroke-width="2" />
<line x1="498.2" y1="872.3" x2="498.2" y2="893.8" stroke="#8c8c8c" stroke-width="2" />
<line x1="922.2" y1="872.3" x2="922.2" y2="893.8" stroke="#8c8c8c" stroke-width="2" />
<line x1="498.2" y1="908.4" x2="498.2" y2="929.9" stroke="#8c8c8c" stroke-width="2" />
<line x1="922.2" y1="908.4" x2="922.2" y2="929.9" stroke="#8c8c8c" stroke-width="2" />
<line x1="498.2" y1="948.2" x2="498.2" y2="959.5" stroke="#8c8c8c" stroke-width="2" />
<line x1="922.2" y1="948.2" x2="922.2" y2="959.5" stroke="#8c8c8c" stroke-width="2" />
<text x="514" y="871.3" font-size="17.8" fill="#231815" text-anchor="start" font-weight="normal" font-family="Liberation Sans" stroke="#231815" stroke-width="0.15" >热电偶输入</text>
<text x="661.7" y="871.3" font-size="17.8" fill="#231815" text-anchor="start" font-weight="normal" font-family="Liberation Sans" stroke="#231815" stroke-width="0.15" >报警输出</text>
<text x="733" y="871.3" font-size="17.8" fill="#231815" text-anchor="start" font-weight="normal" font-family="Liberation Sans" stroke="#231815" stroke-width="0.1" >(常开)</text>
<text x="810.3" y="871.3" font-size="17.8" fill="#231815" text-anchor="start" font-weight="normal" font-family="Liberation Sans" stroke="#231815" stroke-width="0.15" >工作电源</text>
<line x1="511.5" y1="885.7" x2="568.6" y2="885.7" stroke="#231815" stroke-width="1.8" />
<line x1="511.5" y1="913.7" x2="568.6" y2="913.7" stroke="#231815" stroke-width="1.8" />
<line x1="532.6" y1="885.7" x2="532.6" y2="913.7" stroke="#231815" stroke-width="1.8" />
<line x1="539.8" y1="885.7" x2="539.8" y2="913.7" stroke="#231815" stroke-width="1.8" />
<rect x="539.8" y="885.7" width="28.80" height="28.00" fill="none" stroke="#231815" stroke-width="1.8" />
<circle cx="554.20" cy="899.70" r="13.60" fill="none" stroke="#231815" stroke-width="1.8"/>
<polyline points="552.00,886.28 552.00,897.50 540.78,897.50" fill="none" stroke="#231815" stroke-width="1.53"/>
<polyline points="552.00,913.12 552.00,901.90 540.78,901.90" fill="none" stroke="#231815" stroke-width="1.53"/>
<polyline points="556.40,886.28 556.40,897.50 567.62,897.50" fill="none" stroke="#231815" stroke-width="1.53"/>
<polyline points="556.40,913.12 556.40,901.90 567.62,901.90" fill="none" stroke="#231815" stroke-width="1.53"/>
<text x="525.2" y="905.5" font-size="15.8" fill="#231815" text-anchor="middle" font-weight="bold" font-family="Liberation Sans" >2</text>
<line x1="511.5" y1="918.9" x2="568.6" y2="918.9" stroke="#231815" stroke-width="1.8" />
<line x1="511.5" y1="946.2" x2="568.6" y2="946.2" stroke="#231815" stroke-width="1.8" />
<line x1="532.6" y1="918.9" x2="532.6" y2="946.2" stroke="#231815" stroke-width="1.8" />
<line x1="539.8" y1="918.9" x2="539.8" y2="946.2" stroke="#231815" stroke-width="1.8" />
<rect x="539.8" y="918.9" width="28.80" height="27.30" fill="none" stroke="#231815" stroke-width="1.8" />
<circle cx="554.20" cy="932.55" r="13.25" fill="none" stroke="#231815" stroke-width="1.8"/>
<polyline points="552.00,919.48 552.00,930.35 541.13,930.35" fill="none" stroke="#231815" stroke-width="1.53"/>
<polyline points="552.00,945.62 552.00,934.75 541.13,934.75" fill="none" stroke="#231815" stroke-width="1.53"/>
<polyline points="556.40,919.48 556.40,930.35 567.27,930.35" fill="none" stroke="#231815" stroke-width="1.53"/>
<polyline points="556.40,945.62 556.40,934.75 567.27,934.75" fill="none" stroke="#231815" stroke-width="1.53"/>
<text x="525.2" y="938" font-size="15.8" fill="#231815" text-anchor="middle" font-weight="bold" font-family="Liberation Sans" >3</text>
<line x1="571.5" y1="893.5" x2="582.8" y2="893.5" stroke="#231815" stroke-width="1.4" />
<line x1="577.2" y1="889.2" x2="577.2" y2="897.9" stroke="#231815" stroke-width="1.4" />
<line x1="575.7" y1="938.7" x2="580.7" y2="938.7" stroke="#231815" stroke-width="1.4" />
<polyline points="568.6,901.9 580,901.9 588.5,917.5" fill="none" stroke="#231815" stroke-width="1.6" />
<polyline points="588.5,917.5 580,930.9 568.6,930.9" fill="none" stroke="#231815" stroke-width="1.6" />
<line x1="587.5" y1="919.5" x2="580.5" y2="929.5" stroke="#231815" stroke-width="2.6" />
<text x="593.4" y="922.4" font-size="15" fill="#231815" text-anchor="start" font-weight="normal" font-family="Liberation Mono" textLength="38.9" lengthAdjust="spacingAndGlyphs" stroke="#231815" stroke-width="0.15" >TC/mV</text>
<line x1="663.7" y1="885.5" x2="716" y2="885.5" stroke="#231815" stroke-width="1.8" />
<line x1="663.7" y1="910.8" x2="716" y2="910.8" stroke="#231815" stroke-width="1.8" />
<line x1="683.2" y1="885.5" x2="683.2" y2="910.8" stroke="#231815" stroke-width="1.8" />
<line x1="689.5" y1="885.5" x2="689.5" y2="910.8" stroke="#231815" stroke-width="1.8" />
<rect x="689.5" y="885.5" width="26.50" height="25.30" fill="none" stroke="#231815" stroke-width="1.8" />
<circle cx="702.75" cy="898.15" r="12.25" fill="none" stroke="#231815" stroke-width="1.8"/>
<polyline points="700.55,886.10 700.55,895.95 690.70,895.95" fill="none" stroke="#231815" stroke-width="1.53"/>
<polyline points="700.55,910.20 700.55,900.35 690.70,900.35" fill="none" stroke="#231815" stroke-width="1.53"/>
<polyline points="704.95,886.10 704.95,895.95 714.80,895.95" fill="none" stroke="#231815" stroke-width="1.53"/>
<polyline points="704.95,910.20 704.95,900.35 714.80,900.35" fill="none" stroke="#231815" stroke-width="1.53"/>
<text x="672.7" y="904.3" font-size="15.8" fill="#231815" text-anchor="middle" font-weight="bold" font-family="Liberation Sans" textLength="13.4" lengthAdjust="spacingAndGlyphs" >11</text>
<line x1="663.7" y1="916.3" x2="716" y2="916.3" stroke="#231815" stroke-width="1.8" />
<line x1="663.7" y1="941" x2="716" y2="941" stroke="#231815" stroke-width="1.8" />
<line x1="683.2" y1="916.3" x2="683.2" y2="941" stroke="#231815" stroke-width="1.8" />
<line x1="689.5" y1="916.3" x2="689.5" y2="941" stroke="#231815" stroke-width="1.8" />
<rect x="689.5" y="916.3" width="26.50" height="24.70" fill="none" stroke="#231815" stroke-width="1.8" />
<circle cx="702.75" cy="928.65" r="11.95" fill="none" stroke="#231815" stroke-width="1.8"/>
<polyline points="700.55,916.90 700.55,926.45 691.00,926.45" fill="none" stroke="#231815" stroke-width="1.53"/>
<polyline points="700.55,940.40 700.55,930.85 691.00,930.85" fill="none" stroke="#231815" stroke-width="1.53"/>
<polyline points="704.95,916.90 704.95,926.45 714.50,926.45" fill="none" stroke="#231815" stroke-width="1.53"/>
<polyline points="704.95,940.40 704.95,930.85 714.50,930.85" fill="none" stroke="#231815" stroke-width="1.53"/>
<text x="673.4" y="934.5" font-size="15.8" fill="#231815" text-anchor="middle" font-weight="bold" font-family="Liberation Sans" textLength="13.4" lengthAdjust="spacingAndGlyphs" >12</text>
<line x1="716" y1="897.5" x2="735" y2="897.5" stroke="#231815" stroke-width="1.6" />
<circle cx="737.6" cy="897.5" r="2.5" fill="#f8f8f8" stroke="#231815" stroke-width="1.5"/>
<line x1="739.3" y1="899.3" x2="752.1" y2="910.2" stroke="#231815" stroke-width="1.6" />
<circle cx="743.6" cy="912.1" r="2.5" fill="#f8f8f8" stroke="#231815" stroke-width="1.5"/>
<polyline points="743.6,914.6 743.6,927.6 716,927.6" fill="none" stroke="#231815" stroke-width="1.6" />
<text x="721.2" y="917.5" font-size="15.2" fill="#231815" text-anchor="start" font-weight="normal" font-family="Liberation Mono" textLength="15.6" lengthAdjust="spacingAndGlyphs" stroke="#231815" stroke-width="0.15" >NO</text>
<text x="756.6" y="919.3" font-size="16.7" fill="#231815" text-anchor="start" font-weight="normal" font-family="Liberation Mono" textLength="25.7" lengthAdjust="spacingAndGlyphs" stroke="#231815" stroke-width="0.1" >AL2</text>
<line x1="812" y1="885.9" x2="867.3" y2="885.9" stroke="#231815" stroke-width="1.8" />
<line x1="812" y1="912.1" x2="867.3" y2="912.1" stroke="#231815" stroke-width="1.8" />
<line x1="832.8" y1="885.9" x2="832.8" y2="912.1" stroke="#231815" stroke-width="1.8" />
<line x1="839.4" y1="885.9" x2="839.4" y2="912.1" stroke="#231815" stroke-width="1.8" />
<rect x="839.4" y="885.9" width="27.90" height="26.20" fill="none" stroke="#231815" stroke-width="1.8" />
<circle cx="853.35" cy="899.00" r="12.70" fill="none" stroke="#231815" stroke-width="1.8"/>
<polyline points="851.15,886.49 851.15,896.80 840.84,896.80" fill="none" stroke="#231815" stroke-width="1.53"/>
<polyline points="851.15,911.51 851.15,901.20 840.84,901.20" fill="none" stroke="#231815" stroke-width="1.53"/>
<polyline points="855.55,886.49 855.55,896.80 865.86,896.80" fill="none" stroke="#231815" stroke-width="1.53"/>
<polyline points="855.55,911.51 855.55,901.20 865.86,901.20" fill="none" stroke="#231815" stroke-width="1.53"/>
<text x="822.5" y="903" font-size="15.8" fill="#231815" text-anchor="middle" font-weight="bold" font-family="Liberation Sans" textLength="13.4" lengthAdjust="spacingAndGlyphs" >13</text>
<line x1="812" y1="917.9" x2="867.3" y2="917.9" stroke="#231815" stroke-width="1.8" />
<line x1="812" y1="944.1" x2="867.3" y2="944.1" stroke="#231815" stroke-width="1.8" />
<line x1="832.8" y1="917.9" x2="832.8" y2="944.1" stroke="#231815" stroke-width="1.8" />
<line x1="839.4" y1="917.9" x2="839.4" y2="944.1" stroke="#231815" stroke-width="1.8" />
<rect x="839.4" y="917.9" width="27.90" height="26.20" fill="none" stroke="#231815" stroke-width="1.8" />
<circle cx="853.35" cy="931.00" r="12.70" fill="none" stroke="#231815" stroke-width="1.8"/>
<polyline points="851.15,918.49 851.15,928.80 840.84,928.80" fill="none" stroke="#231815" stroke-width="1.53"/>
<polyline points="851.15,943.51 851.15,933.20 840.84,933.20" fill="none" stroke="#231815" stroke-width="1.53"/>
<polyline points="855.55,918.49 855.55,928.80 865.86,928.80" fill="none" stroke="#231815" stroke-width="1.53"/>
<polyline points="855.55,943.51 855.55,933.20 865.86,933.20" fill="none" stroke="#231815" stroke-width="1.53"/>
<text x="822.5" y="935.8" font-size="15.8" fill="#231815" text-anchor="middle" font-weight="bold" font-family="Liberation Sans" textLength="13.4" lengthAdjust="spacingAndGlyphs" >14</text>
<line x1="867.3" y1="900" x2="895.7" y2="900" stroke="#231815" stroke-width="1.6" />
<circle cx="898.3" cy="900" r="2.6" fill="#f8f8f8" stroke="#231815" stroke-width="1.5"/>
<line x1="867.3" y1="931.5" x2="895.7" y2="931.5" stroke="#231815" stroke-width="1.6" />
<circle cx="898.3" cy="931.5" r="2.6" fill="#f8f8f8" stroke="#231815" stroke-width="1.5"/>
<text x="878.9" y="897.9" font-size="17.2" fill="#231815" text-anchor="start" font-weight="normal" font-family="Liberation Sans" textLength="7.1" lengthAdjust="spacingAndGlyphs" stroke="#231815" stroke-width="0.3" >L</text>
<text x="880.2" y="946.7" font-size="15.8" fill="#231815" text-anchor="start" font-weight="normal" font-family="Liberation Sans" textLength="8.4" lengthAdjust="spacingAndGlyphs" stroke="#231815" stroke-width="0.3" >N</text>
<line x1="-12.6" y1="984.6" x2="1000" y2="984.6" stroke="#9a9a9a" stroke-width="2.4" stroke-dasharray="23.4 23.7"/>
</svg>
</body></html>
